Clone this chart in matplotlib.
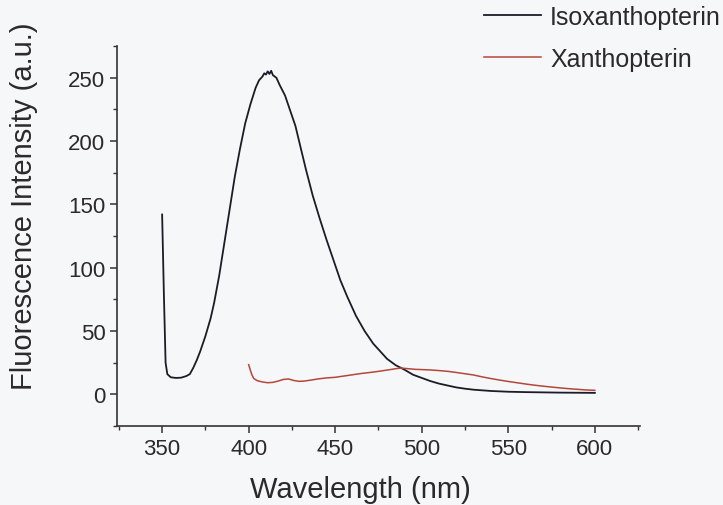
import matplotlib
matplotlib.use("Agg")
import matplotlib.pyplot as plt
from matplotlib.ticker import MultipleLocator

# Isoxanthopterin emission (black)
iso_wl = [350, 351, 352, 353, 355, 358, 361, 364, 366, 368, 370, 372, 375,
          378, 380, 383, 386, 389, 392, 395, 398, 401, 404, 406, 408, 409,
          410, 411, 412, 413, 414, 416, 418, 421, 424, 427, 430, 433, 437,
          441, 445, 449, 453, 457, 462, 467, 472, 476, 480, 485, 490, 495,
          500, 505, 510, 515, 520, 525, 530, 535, 540, 545, 550, 560, 570,
          580, 590, 600]
iso_val = [142, 80, 25, 16, 13.5, 13, 13.2, 14.5, 16, 21, 27, 34, 46,
           60, 72, 94, 120, 146, 172, 194, 214, 229, 242, 248, 251, 253.5,
           252.5, 255, 253, 255.5, 252, 250, 244, 236, 224, 212, 195, 178, 157,
           139, 122, 106, 90, 77, 62, 50, 40, 34, 28, 23, 19.5, 15.5,
           13, 10.5, 8.5, 7, 5.5, 4.5, 3.7, 3.2, 2.7, 2.4, 2.1, 1.8, 1.6,
           1.4, 1.3, 1.2]

# Xanthopterin emission (red)
xan_wl = [400, 401, 402, 403, 405, 408, 411, 414, 417, 420, 423, 426, 429,
          432, 436, 440, 445, 450, 455, 460, 465, 470, 475, 480, 485, 488,
          492, 496, 500, 505, 510, 515, 520, 525, 530, 535, 540, 545, 550,
          555, 560, 565, 570, 575, 580, 585, 590, 595, 600]
xan_val = [23.5, 19, 15, 12.5, 10.8, 9.8, 9.2, 9.5, 10.5, 11.8, 12.2, 11, 10.3,
           10.5, 11.3, 12.2, 13, 13.5, 14.5, 15.5, 16.5, 17.3, 18.2, 19.2, 20.3, 20.8,
           20.3, 19.8, 19.6, 19.3, 18.8, 18.2, 17.3, 16.3, 15.3, 13.8, 12.5, 11.3, 10.2,
           9.2, 8.2, 7.3, 6.5, 5.8, 5.1, 4.5, 4, 3.5, 3.2]

plt.rcParams["font.family"] = ["Liberation Sans", "DejaVu Sans"]

bg = "#f6f7f9"
fig = plt.figure(figsize=(7.23, 5.06), dpi=100, facecolor=bg)
ax = fig.add_axes([0.162, 0.156, 0.723, 0.751], facecolor=bg)

ax.plot(iso_wl, iso_val, color="#1c1c28", lw=1.3, label="Isoxanthopterin")
ax.plot(xan_wl, xan_val, color="#b5473a", lw=1.1, label="Xanthopterin")

ax.set_xlim(324, 626)
ax.set_ylim(-25, 275)
ax.xaxis.set_major_locator(MultipleLocator(50))
ax.xaxis.set_minor_locator(MultipleLocator(25))
ax.yaxis.set_major_locator(MultipleLocator(50))
ax.yaxis.set_minor_locator(MultipleLocator(25))

for side in ("top", "right"):
    ax.spines[side].set_visible(False)
for side in ("left", "bottom"):
    ax.spines[side].set_linewidth(1.2)
    ax.spines[side].set_color("#333333")

ax.tick_params(which="major", direction="out", length=5, width=1.1,
               labelsize=16, colors="#333333", labelcolor="#2a2a2a")
ax.tick_params(which="minor", direction="out", length=3, width=1.0,
               colors="#333333")

ax.set_xlabel("Wavelength (nm)", fontsize=21, color="#2a2a2a")
ax.set_ylabel("Fluorescence Intensity (a.u.)", fontsize=21, color="#2a2a2a")
ax.xaxis.set_label_coords(0.465, -0.13)
ax.yaxis.set_label_coords(-0.152, 0.58)

fig.legend(loc="upper right", bbox_to_anchor=(0.997, 0.989), frameon=False,
           fontsize=18, handlelength=2.3, handletextpad=0.35,
           labelspacing=0.72, borderpad=0, borderaxespad=0,
           labelcolor="#2a2a2a")

fig.savefig("out.png", dpi=100, facecolor=bg)
